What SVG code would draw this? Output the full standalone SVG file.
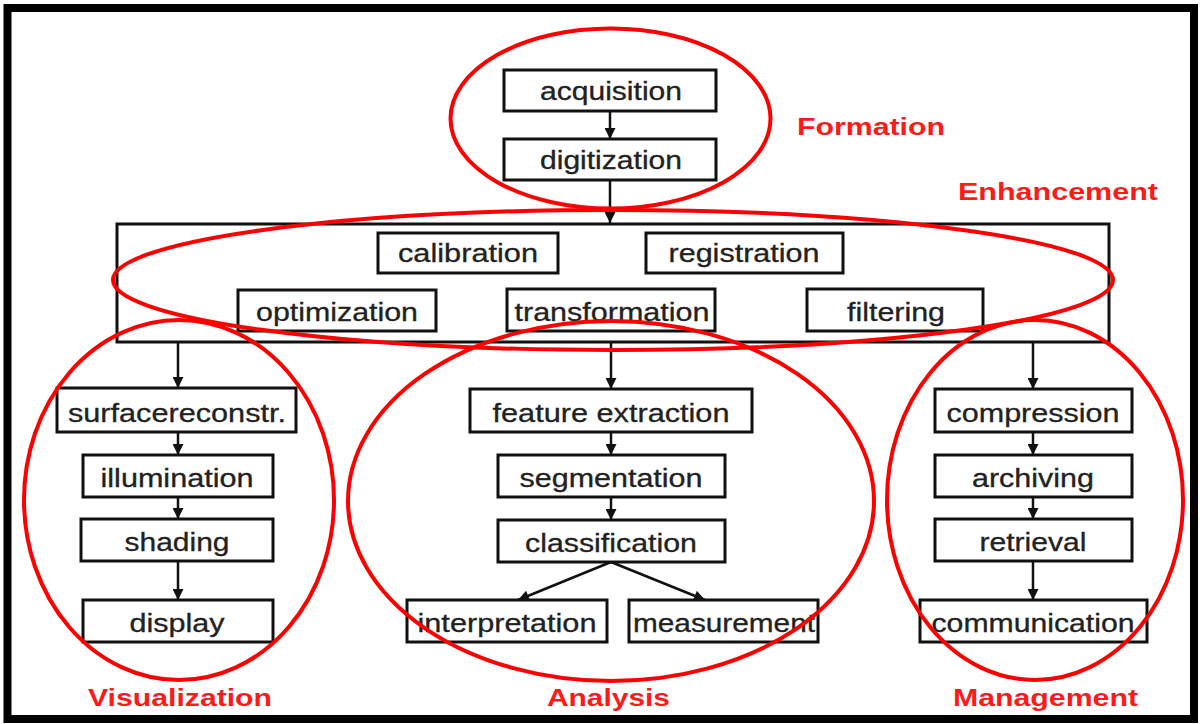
<svg xmlns="http://www.w3.org/2000/svg" width="1200" height="724" viewBox="0 0 1200 724">
<style>
.box{fill:#fff;stroke:#111;stroke-width:3}
.t{font-family:"Liberation Sans",Arial,sans-serif;font-size:25px;fill:#222;stroke:#222;stroke-width:0.3;text-anchor:middle}
.lbl{font-family:"Liberation Sans",Arial,sans-serif;font-size:24px;font-weight:bold;fill:#ff1a1a}
.ring{fill:none;stroke:#ff0000;stroke-width:4}
.c{stroke:#111;stroke-width:2.5;fill:none;marker-end:url(#ah)}
</style>
<defs>
<marker id="ah" viewBox="0 0 10 10" refX="10" refY="5" markerWidth="12" markerHeight="11" markerUnits="userSpaceOnUse" orient="auto">
<path d="M0,0 L10,5 L0,10 Z" fill="#111"/>
</marker>
</defs>
<rect x="0" y="0" width="1200" height="724" fill="#fff"/>
<rect x="7.5" y="8" width="1186.5" height="711" fill="none" stroke="#000" stroke-width="8"/>

<g id="connectors">
<line class="c" x1="610" y1="111" x2="610" y2="139"/>
<line class="c" x1="610" y1="180" x2="610" y2="223"/>
<line class="c" x1="178" y1="342" x2="178" y2="388"/>
<line class="c" x1="611" y1="342" x2="611" y2="389"/>
<line class="c" x1="1033" y1="342" x2="1033" y2="389"/>
<line class="c" x1="178" y1="432" x2="178" y2="455"/>
<line class="c" x1="178" y1="497" x2="178" y2="519"/>
<line class="c" x1="178" y1="561" x2="178" y2="600"/>
<line class="c" x1="611" y1="432" x2="611" y2="455"/>
<line class="c" x1="611" y1="497" x2="611" y2="520"/>
<line class="c" x1="611" y1="562" x2="518" y2="600"/>
<line class="c" x1="611" y1="562" x2="705" y2="600"/>
<line class="c" x1="1033" y1="432" x2="1033" y2="455"/>
<line class="c" x1="1033" y1="497" x2="1033" y2="519"/>
<line class="c" x1="1033" y1="561" x2="1033" y2="600"/>
</g>

<g id="enhancement-box"><rect class="box" x="117" y="224" width="992" height="118" fill="none"/></g>

<g id="acquisition"><rect class="box" x="504" y="70" width="212" height="41"/><text class="t" x="611" y="100" textLength="142" lengthAdjust="spacingAndGlyphs">acquisition</text></g>
<g id="digitization"><rect class="box" x="504" y="139" width="212" height="41"/><text class="t" x="611" y="169" textLength="142" lengthAdjust="spacingAndGlyphs">digitization</text></g>

<g id="calibration"><rect class="box" x="378" y="233" width="180" height="40"/><text class="t" x="468" y="262" textLength="140" lengthAdjust="spacingAndGlyphs">calibration</text></g>
<g id="registration"><rect class="box" x="646" y="233" width="197" height="40"/><text class="t" x="744" y="262" textLength="151" lengthAdjust="spacingAndGlyphs">registration</text></g>
<g id="optimization"><rect class="box" x="238" y="290" width="198" height="41"/><text class="t" x="337" y="321" textLength="162" lengthAdjust="spacingAndGlyphs">optimization</text></g>
<g id="transformation"><rect class="box" x="507" y="289" width="208" height="42"/><text class="t" x="612" y="321" textLength="195" lengthAdjust="spacingAndGlyphs">transformation</text></g>
<g id="filtering"><rect class="box" x="807" y="289" width="176" height="42"/><text class="t" x="896" y="321" textLength="98" lengthAdjust="spacingAndGlyphs">filtering</text></g>

<g id="surfacereconstr"><rect class="box" x="57" y="388" width="239" height="44"/><text class="t" x="177" y="422" textLength="218" lengthAdjust="spacingAndGlyphs">surfacereconstr.</text></g>
<g id="illumination"><rect class="box" x="83" y="455" width="190" height="42"/><text class="t" x="177" y="487" textLength="153" lengthAdjust="spacingAndGlyphs">illumination</text></g>
<g id="shading"><rect class="box" x="81" y="519" width="192" height="42"/><text class="t" x="177" y="551" textLength="105" lengthAdjust="spacingAndGlyphs">shading</text></g>
<g id="display"><rect class="box" x="83" y="600" width="190" height="42"/><text class="t" x="177" y="632" textLength="95" lengthAdjust="spacingAndGlyphs">display</text></g>

<g id="feature-extraction"><rect class="box" x="470" y="389" width="282" height="43"/><text class="t" x="611" y="422" textLength="237" lengthAdjust="spacingAndGlyphs">feature extraction</text></g>
<g id="segmentation"><rect class="box" x="498" y="455" width="227" height="42"/><text class="t" x="611" y="487" textLength="183" lengthAdjust="spacingAndGlyphs">segmentation</text></g>
<g id="classification"><rect class="box" x="498" y="520" width="227" height="42"/><text class="t" x="611" y="552" textLength="172" lengthAdjust="spacingAndGlyphs">classification</text></g>
<g id="interpretation"><rect class="box" x="407" y="600" width="200" height="42"/><text class="t" x="507" y="632" textLength="179" lengthAdjust="spacingAndGlyphs">interpretation</text></g>
<g id="measurement"><rect class="box" x="629" y="600" width="189" height="42"/><text class="t" x="724" y="632" textLength="182" lengthAdjust="spacingAndGlyphs">measurement</text></g>

<g id="compression"><rect class="box" x="935" y="389" width="197" height="43"/><text class="t" x="1033" y="422" textLength="173" lengthAdjust="spacingAndGlyphs">compression</text></g>
<g id="archiving"><rect class="box" x="935" y="455" width="197" height="42"/><text class="t" x="1033" y="487" textLength="122" lengthAdjust="spacingAndGlyphs">archiving</text></g>
<g id="retrieval"><rect class="box" x="935" y="519" width="197" height="42"/><text class="t" x="1033" y="551" textLength="107" lengthAdjust="spacingAndGlyphs">retrieval</text></g>
<g id="communication"><rect class="box" x="920" y="600" width="227" height="42"/><text class="t" x="1033" y="632" textLength="203" lengthAdjust="spacingAndGlyphs">communication</text></g>

<g id="rings">
<ellipse class="ring" cx="610.5" cy="118.5" rx="160" ry="90"/>
<ellipse class="ring" cx="613" cy="280" rx="500" ry="70"/>
<ellipse class="ring" cx="179" cy="500" rx="155" ry="180"/>
<ellipse class="ring" cx="611" cy="501" rx="263" ry="180"/>
<ellipse class="ring" cx="1035" cy="500" rx="148" ry="180"/>
</g>

<g id="labels">
<text class="lbl" x="797" y="135" textLength="148" lengthAdjust="spacingAndGlyphs">Formation</text>
<text class="lbl" x="958" y="200" textLength="200" lengthAdjust="spacingAndGlyphs">Enhancement</text>
<text class="lbl" x="88" y="706" textLength="184" lengthAdjust="spacingAndGlyphs">Visualization</text>
<text class="lbl" x="547" y="706" textLength="123" lengthAdjust="spacingAndGlyphs">Analysis</text>
<text class="lbl" x="953" y="706" textLength="185" lengthAdjust="spacingAndGlyphs">Management</text>
</g>
</svg>
